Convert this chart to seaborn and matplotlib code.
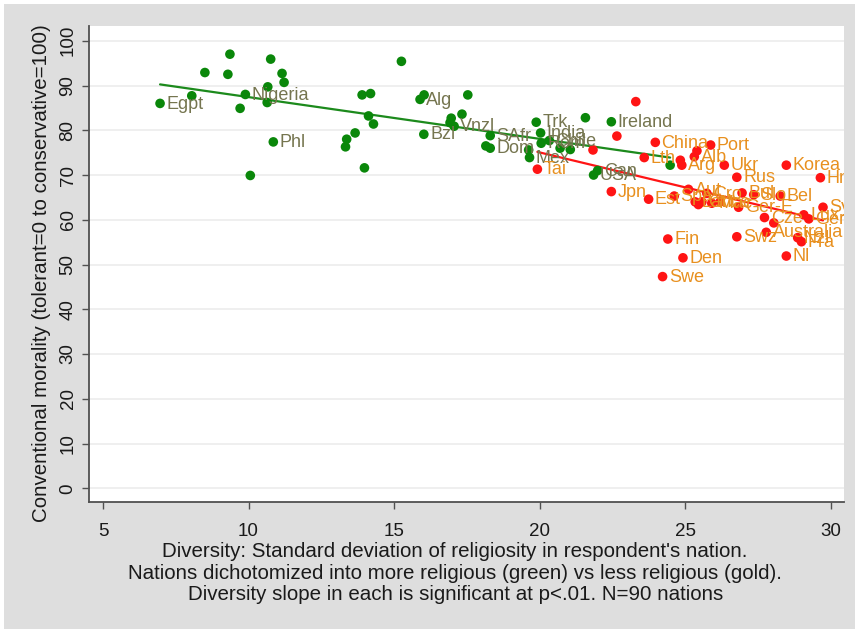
import numpy as np
import pandas as pd
import matplotlib
matplotlib.use("Agg")
import matplotlib.pyplot as plt
from matplotlib.patches import Rectangle
import seaborn as sns

# More religious nations (green)
green_x = [6.96, 8.05, 8.50, 9.29, 9.36, 9.71, 9.89, 10.66, 10.64, 10.76, 11.15, 11.22,
           10.85, 10.06, 15.25, 13.90, 14.19, 14.12, 14.29, 13.66, 13.37, 13.33, 13.98,
           15.89, 16.03, 17.53, 16.02, 17.33, 16.96, 16.92, 17.06, 18.30, 18.15, 18.30,
           19.88, 21.57, 22.46, 20.03, 20.05, 20.33, 20.70, 21.05, 19.62, 19.65, 21.85,
           21.99, 24.48]
green_y = [86.0, 87.7, 92.9, 92.5, 97.0, 84.9, 88.0, 89.7, 86.2, 95.9, 92.7, 90.7,
           77.4, 69.9, 95.4, 87.9, 88.2, 83.2, 81.4, 79.4, 78.0, 76.3, 71.6,
           86.9, 87.9, 87.9, 79.1, 83.6, 82.7, 81.7, 80.9, 78.8, 76.5, 76.0,
           81.8, 82.8, 81.9, 79.4, 77.1, 77.7, 76.0, 75.7, 75.6, 73.9, 70.0,
           71.0, 72.2]
green_labels = ["Egpt", "", "", "", "", "", "Nigeria", "", "", "", "", "",
                "Phl", "", "", "", "", "", "", "", "", "", "",
                "Alg", "", "", "Bzl", "", "", "", "Vnzl", "SAfr", "", "Dom",
                "Trk", "", "Ireland", "India", "Rom", "Chile", "", "", "", "Mex", "USA",
                "Can", ""]

# Less religious nations (gold)
red_x = [23.30, 22.65, 21.83, 19.92, 22.46, 23.97, 23.59, 24.83, 24.88, 25.40, 25.31,
         25.87, 26.34, 23.74, 24.62, 25.11, 25.34, 25.45, 25.74, 25.57, 25.91, 26.20,
         26.83, 26.95, 27.35, 28.26, 28.47, 29.64, 26.77, 29.73, 27.72, 28.04, 29.07,
         29.24, 27.78, 26.77, 28.86, 28.99, 28.47, 24.40, 24.92, 24.22]
red_y = [86.4, 78.7, 75.6, 71.3, 66.3, 77.3, 73.9, 73.3, 72.2, 75.4, 74.1,
         76.7, 72.2, 64.6, 65.3, 66.8, 64.0, 63.4, 65.9, 64.0, 63.7, 64.0,
         62.8, 66.0, 65.6, 65.3, 72.2, 69.4, 69.5, 62.8, 60.5, 59.3, 61.1,
         60.2, 57.2, 56.2, 56.0, 55.1, 51.9, 55.7, 51.5, 47.3]
red_labels = ["", "", "", "Tai", "Jpn", "China", "Lth", "", "Arg", "", "Alb",
              "Port", "Ukr", "Est", "Spa", "Aut", "Lat", "", "Cro", "Grc", "Mac", "Ice",
              "Ger-E", "Bul", "Slo", "Bel", "Korea", "Hng", "Rus", "Syk", "Cze", "", "Lux",
              "Ger-W", "Australia", "Swz", "Nzl", "Fra", "Nl", "Fin", "Den", "Swe"]

green = pd.DataFrame({"x": green_x, "y": green_y, "label": green_labels})
gold = pd.DataFrame({"x": red_x, "y": red_y, "label": red_labels})

sns.set_theme(style="white")
plt.rcParams["font.family"] = ["Liberation Sans", "DejaVu Sans"]

BG = "#dedede"
fig = plt.figure(figsize=(8.55, 6.29), dpi=100, facecolor=BG)
ax = fig.add_axes([0.1041, 0.2019, 0.883, 0.7568])
ax.set_facecolor("white")

# thin white margin along the top and left of the frame
fig.add_artist(Rectangle((0, 0.9936), 1, 0.0064, transform=fig.transFigure,
                         facecolor="white", edgecolor="none", zorder=0))
fig.add_artist(Rectangle((0, 0), 0.0047, 1, transform=fig.transFigure,
                         facecolor="white", edgecolor="none", zorder=0))

ax.set_xlim(4.52, 30.45)
ax.set_ylim(-3.06, 103.3)
ax.set_yticks(np.arange(0, 101, 10))
ax.set_xticks([5, 10, 15, 20, 25, 30])
ax.yaxis.grid(True, color="#ececec", lw=1.2)
ax.set_axisbelow(True)

GREEN = "#0a870a"
RED = "#ff1414"
GREEN_TXT = "#75754f"
GOLD_TXT = "#e8901f"

sns.regplot(data=green, x="x", y="y", scatter=False, ci=None, ax=ax,
            color="#1c8a1c", line_kws={"lw": 1.6, "zorder": 3})
sns.regplot(data=gold, x="x", y="y", scatter=False, ci=None, ax=ax,
            color=RED, line_kws={"lw": 1.6, "zorder": 3})

sns.scatterplot(data=green, x="x", y="y", ax=ax, color=GREEN, s=48,
                edgecolor="none", zorder=4)
sns.scatterplot(data=gold, x="x", y="y", ax=ax, color=RED, s=48,
                edgecolor="none", zorder=4)

for df, col in ((green, GREEN_TXT), (gold, GOLD_TXT)):
    for _, r in df.iterrows():
        if r["label"]:
            ax.annotate(r["label"], (r["x"], r["y"]), xytext=(4.5, -0.5),
                        textcoords="offset points", va="center", ha="left",
                        fontsize=13, color=col, zorder=5,
                        annotation_clip=False, clip_on=True)

for s in ("top", "right"):
    ax.spines[s].set_visible(False)
for s in ("left", "bottom"):
    ax.spines[s].set_color("#505050")
    ax.spines[s].set_linewidth(1.3)

ax.tick_params(axis="both", which="major", direction="out", length=5, width=1,
               color="#505050", labelsize=13.5, labelcolor="#1a1a1a",
               left=True, bottom=True)
ax.tick_params(axis="x", pad=10)
ax.tick_params(axis="y", pad=4)
plt.setp(ax.get_yticklabels(), rotation=90, va="center")

ax.set_ylabel("Conventional morality (tolerant=0 to conservative=100)",
              fontsize=14.8, color="#1a1a1a")
ax.yaxis.set_label_coords(-0.05, 0.481)
ax.set_xlabel("Diversity: Standard deviation of religiosity in respondent's nation.\n"
              "Nations dichotomized into more religious (green) vs less religious (gold).\n"
              "Diversity slope in each is significant at p<.01. N=90 nations",
              fontsize=14.8, color="#1a1a1a", linespacing=1.18)
ax.xaxis.set_label_coords(0.485, -0.084)

fig.savefig("out.png", dpi=100, facecolor=BG)
